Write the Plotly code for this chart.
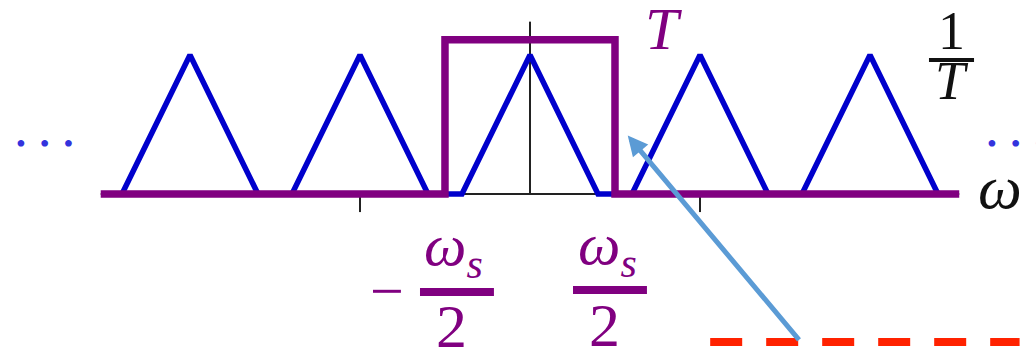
import plotly.graph_objects as go

# ---- data ----
ws = 2.0                                  # sampling frequency (axis units)
replica_index = [-2, -1, 0, 1, 2]         # spectral replicas k*ws
tri_half_width = 0.8
tri_height = 1.0                          # 1/T
filter_cutoff = ws / 2                    # ws/2
filter_gain = 1.11                        # T
axis_extent = 5.05
tick_positions = [-ws, ws]

# ---- build geometry from data ----
bx, by = [], []
for k in replica_index:
    c = k * ws
    bx += [c - tri_half_width, c, c + tri_half_width]
    by += [0, tri_height, 0]

px = [-axis_extent, -filter_cutoff, -filter_cutoff, filter_cutoff, filter_cutoff, axis_extent]
py = [0, 0, filter_gain, filter_gain, 0, 0]

PURPLE = "#800080"
BLUE = "#0000cc"
F1 = "Liberation Serif"

fig = go.Figure()
fig.add_trace(go.Scatter(x=bx, y=by, mode="lines",
                         line=dict(color=BLUE, width=5.5), hoverinfo="skip"))
fig.add_trace(go.Scatter(x=px, y=py, mode="lines",
                         line=dict(color=PURPLE, width=7.5), hoverinfo="skip"))

shapes = []
shapes.append(dict(type="line", x0=-axis_extent, x1=axis_extent, y0=0, y1=0,
                   line=dict(color="#222", width=2), layer="below"))
shapes.append(dict(type="line", x0=0, x1=0, y0=0, y1=1.24,
                   line=dict(color="#222", width=2), layer="below"))
for t in tick_positions:
    shapes.append(dict(type="line", x0=t, x1=t, y0=0, y1=-0.13,
                       line=dict(color="#222", width=2), layer="below"))
shapes.append(dict(type="line", x0=-1.294, x1=-0.424, y0=-0.705, y1=-0.705,
                   line=dict(color=PURPLE, width=8)))
shapes.append(dict(type="line", x0=0.506, x1=1.376, y0=-0.691, y1=-0.691,
                   line=dict(color=PURPLE, width=8)))
shapes.append(dict(type="line", x0=4.694, x1=5.224, y0=0.964, y1=0.964,
                   line=dict(color="#111", width=4)))
shapes.append(dict(type="line", x0=2.12, x1=5.76, y0=-1.065, y1=-1.065,
                   line=dict(color="#ff2200", width=8, dash="32px,24px")))

ann = []
def txt(x, y, s, size, color, fam=F1, italic=False):
    if italic:
        s = "<i>" + s + "</i>"
    ann.append(dict(x=x, y=y, text=s, showarrow=False, xanchor="center",
                    yanchor="middle", font=dict(family=fam, size=size, color=color)))

txt(-1.682, -0.70, "\u2212", 60, PURPLE)
txt(-0.894, -0.40, "ω<sub>s</sub>", 60, PURPLE, italic=True)
txt(-0.929, -0.95, "2", 62, PURPLE)
txt(0.906, -0.39, "ω<sub>s</sub>", 60, PURPLE, italic=True)
txt(0.882, -0.94, "2", 62, PURPLE)
txt(1.576, 1.19, "T", 60, PURPLE, italic=True)
txt(4.953, 1.17, "1", 54, "#111")
txt(4.965, 0.81, "T", 54, "#111", italic=True)
txt(5.529, 0.05, "ω", 62, "#111", italic=True)
txt(-5.706, 0.36, "•\u2002•\u2002•", 28, "#3333dd")
txt(5.706, 0.36, "•\u2002•\u2002•", 28, "#3333dd")

ann.append(dict(x=1.15, y=0.42, ax=3.18, ay=-1.06, axref="x", ayref="y",
                xref="x", yref="y", text="", showarrow=True,
                arrowcolor="#5b9bd5", arrowwidth=5, arrowhead=2, arrowsize=0.8,
                standoff=0, startstandoff=0))

fig.update_layout(
    width=1036, height=352, autosize=False,
    margin=dict(l=0, r=0, t=0, b=0),
    paper_bgcolor="white", plot_bgcolor="white",
    showlegend=False,
    xaxis=dict(range=[-6.235, 5.953], visible=False, fixedrange=True),
    yaxis=dict(range=[-1.1367, 1.3957], visible=False, fixedrange=True),
    shapes=shapes, annotations=ann,
)
fig.write_html("out.html", config={"displayModeBar": False},
               post_script="document.body.style.margin='0';document.body.style.overflow='hidden';")
